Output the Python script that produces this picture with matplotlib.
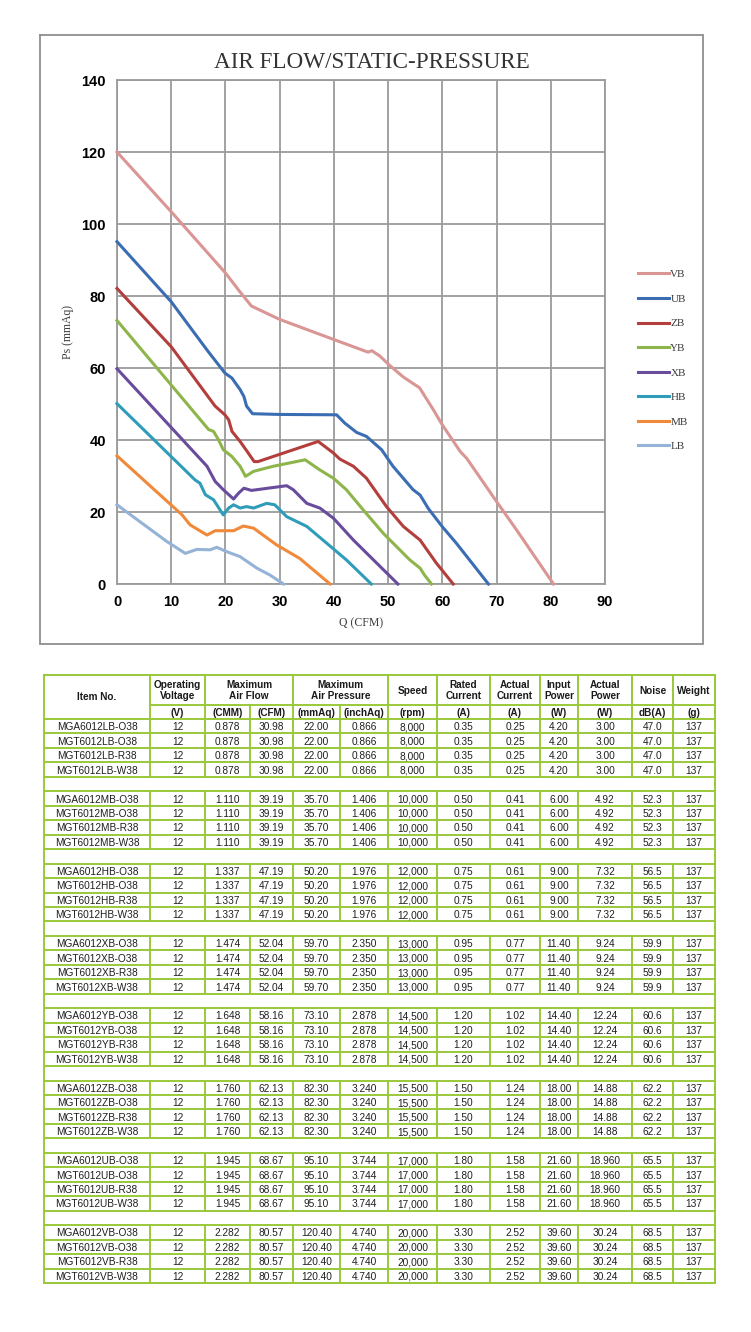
import matplotlib
matplotlib.use("Agg")
import matplotlib.pyplot as plt

# ---------------- chart data ----------------
series_names = ["VB", "UB", "ZB", "YB", "XB", "HB", "MB", "LB"]
series_colors = ["#D99694", "#3B6DB3", "#B33F3C", "#8DB54B", "#6A4C9C", "#2F9DB9", "#F08A3A", "#95B3D7"]

vb_q = [0, 10, 20, 22.5, 24.8, 30, 40, 46.3, 47, 48.5, 50.3, 52.8, 54, 55.8, 58.3, 60, 63.3, 64.5, 70, 73.7, 80.5]
vb_ps = [120, 103.4, 86.4, 81.5, 77.2, 73.5, 67.9, 64.4, 64.8, 63.3, 60.7, 57.5, 56.3, 54.5, 48.5, 44.2, 36.8, 34.9, 22.9, 15, 0]

ub_q = [0, 10, 16.6, 19.9, 21.2, 22.7, 23.4, 23.9, 25, 30, 40.5, 42, 44.2, 46, 48.8, 50.9, 54.6, 55.9, 57.4, 60, 62.6, 68.5]
ub_ps = [95.1, 78.4, 65, 58.6, 57.2, 54, 52.1, 49.4, 47.3, 47.1, 47.0, 44.7, 42.1, 41, 37.3, 32.7, 26.2, 24.7, 21, 15.9, 11.3, 0]

zb_q = [0, 10, 18.1, 19.9, 20.6, 21.2, 22.7, 24.2, 25.3, 26, 37.1, 39.9, 41.1, 43.6, 46, 49.7, 52.8, 55.9, 58.9, 62]
zb_ps = [82.1, 65.9, 49.4, 47, 45.6, 42.4, 39.6, 36.4, 34.0, 34.0, 39.6, 36.4, 34.7, 32.7, 29.4, 21.5, 16, 12.2, 5.8, 0]

yb_q = [0, 16.9, 17.8, 18.7, 19.6, 21.2, 22.7, 23.7, 25.2, 28.8, 34.7, 37.4, 39.9, 42.3, 45.4, 49.1, 54, 55.9, 56.7, 58]
yb_ps = [73.2, 42.9, 42.4, 40.1, 37.3, 35.4, 32.7, 29.9, 31.3, 32.7, 34.5, 31.7, 29.4, 26.2, 20.6, 14.1, 6.7, 4.4, 2.5, 0]

xb_q = [0, 16.6, 18.1, 19.6, 21.5, 22.4, 23.4, 24.8, 31.3, 32.5, 35, 37.4, 39.9, 43.6, 47.9, 51.8]
xb_ps = [59.8, 32.7, 28.5, 26.2, 23.6, 25.2, 26.6, 26, 27.3, 26.2, 22.4, 21.1, 18.3, 12.2, 5.8, 0]

hb_q = [0, 14.4, 15.3, 16.3, 17.8, 19.6, 20.6, 21.5, 22.7, 23.9, 25.2, 27.6, 29.1, 31.3, 35, 38.7, 42.3, 46.9]
hb_ps = [50.1, 28.9, 28, 24.8, 23.4, 19.2, 21.1, 22, 21.1, 21.5, 21.1, 22.4, 22, 18.7, 16, 11.3, 6.7, 0]

mb_q = [0, 12, 13.5, 16.6, 18.1, 21.5, 23.3, 25.2, 29.4, 33.7, 39.3]
mb_ps = [35.6, 19.2, 16.4, 13.6, 14.8, 14.8, 16.1, 15.5, 10.9, 7.1, 0]

lb_q = [0, 9.2, 12.6, 14.7, 17.2, 18.4, 20.2, 22.7, 25.8, 28.2, 30.7]
lb_ps = [22, 11.8, 8.5, 9.6, 9.5, 10.2, 9.0, 7.6, 4.4, 2.5, 0]

x_ticks = [0, 10, 20, 30, 40, 50, 60, 70, 80, 90]
y_ticks = [0, 20, 40, 60, 80, 100, 120, 140]

# ---------------- table data ----------------
groups = ["LB", "MB", "HB", "XB", "YB", "ZB", "UB", "VB"]
variants = ["MGA6012{}-O38", "MGT6012{}-O38", "MGT6012{}-R38", "MGT6012{}-W38"]
voltage = ["12", "12", "12", "12", "12", "12", "12", "12"]
flow_cmm = ["0.878", "1.110", "1.337", "1.474", "1.648", "1.760", "1.945", "2.282"]
flow_cfm = ["30.98", "39.19", "47.19", "52.04", "58.16", "62.13", "68.67", "80.57"]
press_mmaq = ["22.00", "35.70", "50.20", "59.70", "73.10", "82.30", "95.10", "120.40"]
press_inchaq = ["0.866", "1.406", "1.976", "2.350", "2.878", "3.240", "3.744", "4.740"]
speed = ["8,000", "10,000", "12,000", "13,000", "14,500", "15,500", "17,000", "20,000"]
rated_current = ["0.35", "0.50", "0.75", "0.95", "1.20", "1.50", "1.80", "3.30"]
actual_current = ["0.25", "0.41", "0.61", "0.77", "1.02", "1.24", "1.58", "2.52"]
input_power = ["4.20", "6.00", "9.00", "11.40", "14.40", "18.00", "21.60", "39.60"]
actual_power = ["3.00", "4.92", "7.32", "9.24", "12.24", "14.88", "18.960", "30.24"]
noise = ["47.0", "52.3", "56.5", "59.9", "60.6", "62.2", "65.5", "68.5"]
weight = ["137", "137", "137", "137", "137", "137", "137", "137"]

header_top = [("Item No.", None), ("Operating\nVoltage", None), ("Maximum\nAir Flow", 2), None,
              ("Maximum\nAir Pressure", 2), None, ("Speed", None), ("Rated\nCurrent", None),
              ("Actual\nCurrent", None), ("Input\nPower", None), ("Actual\nPower", None),
              ("Noise", None), ("Weight", None)]
header_units = [None, "(V)", "(CMM)", "(CFM)", "(mmAq)", "(inchAq)", "(rpm)", "(A)", "(A)", "(W)", "(W)", "dB(A)", "(g)"]

# ---------------- figure ----------------
W, H = 751, 1332
fig = plt.figure(figsize=(W / 100, H / 100), dpi=100)
fig.patch.set_facecolor("white")

bg = fig.add_axes([0, 0, 1, 1], zorder=0)
bg.set_xlim(0, W)
bg.set_ylim(H, 0)
bg.axis("off")

# chart frame
bg.plot([40, 703, 703, 40, 40], [35, 35, 644, 644, 35], color="#8f8f8f", lw=1.3, solid_joinstyle="miter")

# chart axes
L, R, T, B = 117, 605, 80, 584
ax = fig.add_axes([L / W, 1 - B / H, (R - L) / W, (B - T) / H], zorder=2)
ax.set_xlim(0, 90)
ax.set_ylim(0, 140)
ax.set_xticks(x_ticks)
ax.set_yticks(y_ticks)
grid_c = "#9b9b9b"
ax.grid(True, color=grid_c, lw=1.3)
for s in ax.spines.values():
    s.set_color(grid_c)
    s.set_linewidth(1.3)
ax.tick_params(length=0, labelsize=10.5, pad=8)
for lab in ax.get_xticklabels() + ax.get_yticklabels():
    lab.set_fontfamily("Liberation Sans")
    lab.set_fontweight("bold")

qs = [vb_q, ub_q, zb_q, yb_q, xb_q, hb_q, mb_q, lb_q]
pss = [vb_ps, ub_ps, zb_ps, yb_ps, xb_ps, hb_ps, mb_ps, lb_ps]
handles = []
for name, col, q, p in zip(series_names, series_colors, qs, pss):
    h, = ax.plot(q, p, color=col, lw=2.2, label=name, solid_joinstyle="round", clip_on=False, zorder=3)
    handles.append(h)

serif = ["Liberation Serif", "DejaVu Serif"]
ax.set_xlabel("Q (CFM)", fontfamily=serif, fontsize=8.5, color="#3c3c3c", labelpad=6)
ax.set_ylabel("Ps (mmAq)", fontfamily=serif, fontsize=8.5, color="#3c3c3c", labelpad=5)
fig.text(372 / W, 1 - 63 / H, "AIR FLOW/STATIC-PRESSURE", ha="center", va="center",
         fontfamily=serif, fontsize=16.7, color="#333333")

leg = fig.legend(handles=handles, labels=series_names, loc="upper left",
                 bbox_to_anchor=(632 / W, 1 - 264 / H), frameon=False,
                 prop={"family": serif, "size": 8}, handlelength=2.8, handletextpad=0.15,
                 labelspacing=1.33, borderpad=0)
for t in leg.get_texts():
    t.set_color("#3c3c3c")

# ---------------- table ----------------
green = "#99C93A"
lw_t = 1.4
xs = [44, 150, 205, 250, 293, 340, 388, 437, 490, 540, 578, 632, 673, 715]
t_top, h_mid, h_bot, t_bot = 675, 705, 719, 1283
n_rows = len(groups) * 4 + len(groups) - 1
rh = (t_bot - h_bot) / n_rows

# outer border
bg.plot([xs[0], xs[-1], xs[-1], xs[0], xs[0]], [t_top, t_top, t_bot, t_bot, t_top],
        color=green, lw=lw_t, solid_joinstyle="miter")
# header lines
bg.plot([xs[1], xs[-1]], [h_mid, h_mid], color=green, lw=lw_t)
bg.plot([xs[0], xs[-1]], [h_bot, h_bot], color=green, lw=lw_t)
for i, x in enumerate(xs[1:-1], start=1):
    if i in (3, 5):
        bg.plot([x, x], [h_mid, h_bot], color=green, lw=lw_t)
    else:
        bg.plot([x, x], [t_top, h_bot], color=green, lw=lw_t)

hdr_font = dict(fontfamily="Liberation Sans", fontweight="bold", fontsize=7.2, color="#1a1a1a",
                ha="center", va="center", linespacing=1.15)
for i, item in enumerate(header_top):
    if item is None:
        continue
    txt, span = item
    x0 = xs[i]
    x1 = xs[i + (span or 1)]
    if i == 0:
        bg.text((x0 + x1) / 2, (t_top + h_bot) / 2, txt, **hdr_font)
    else:
        bg.text((x0 + x1) / 2, (t_top + h_mid) / 2 + 0.5, txt, **hdr_font)
unit_font = dict(hdr_font)
unit_font["va"] = "baseline"
for i, u in enumerate(header_units):
    if u is None:
        continue
    bg.text((xs[i] + xs[i + 1]) / 2, (h_mid + h_bot) / 2 + 4.0, u, **unit_font)

cell_font = dict(fontfamily="Liberation Sans", fontsize=7.3, color="#1f1f1f", ha="center",
                 va="baseline")
cols = [voltage, flow_cmm, flow_cfm, press_mmaq, press_inchaq, speed, rated_current,
        actual_current, input_power, actual_power, noise, weight]
row = 0
for g_i, g in enumerate(groups):
    g_top = h_bot + row * rh
    for v in variants:
        y0 = h_bot + row * rh
        yb = y0 + rh / 2 + 4.0
        vals = [v.format(g)] + [c[g_i] for c in cols]
        for j, val in enumerate(vals):
            bg.text((xs[j] + xs[j + 1]) / 2, yb, val, **cell_font)
        bg.plot([xs[0], xs[-1]], [y0 + rh, y0 + rh], color=green, lw=lw_t)
        row += 1
    g_bot = h_bot + row * rh
    for x in xs[1:-1]:
        bg.plot([x, x], [g_top, g_bot], color=green, lw=lw_t)
    if g_i < len(groups) - 1:
        row += 1
        bg.plot([xs[0], xs[-1]], [h_bot + row * rh, h_bot + row * rh], color=green, lw=lw_t)

fig.savefig("out.png", dpi=100, facecolor="white")
